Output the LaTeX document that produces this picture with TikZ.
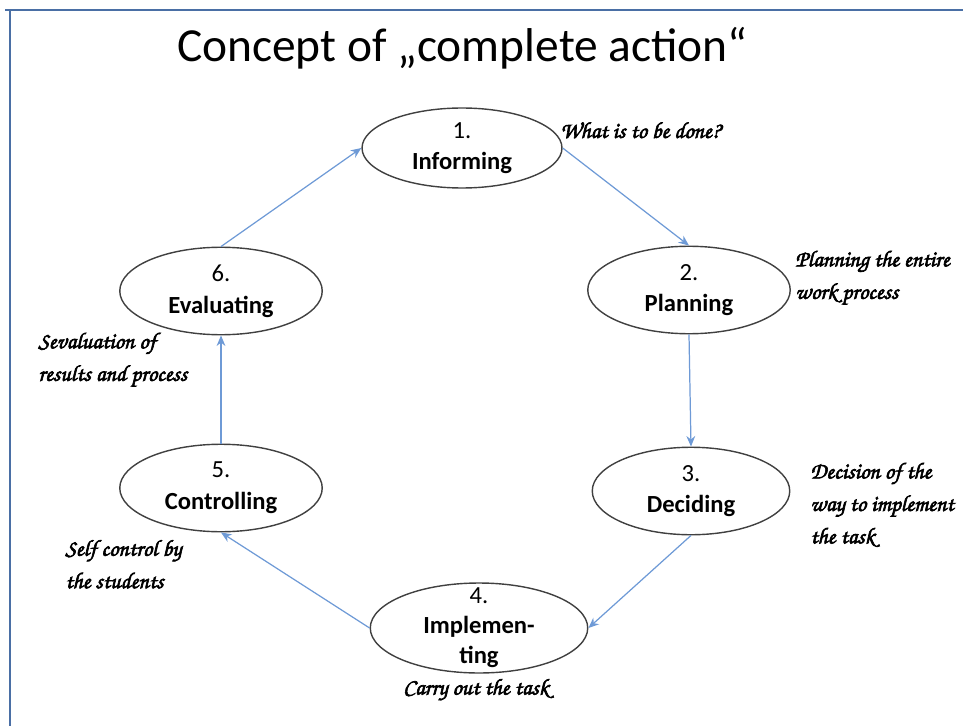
\documentclass[tikz,border=0pt]{standalone}
\usepackage{fontspec}
\setmainfont{Carlito}
\usetikzlibrary{shapes.geometric,arrows.meta}
\definecolor{framecol}{HTML}{4A6FA5}
\definecolor{arrcol}{HTML}{6E9AD6}
\newcommand{\notefont}{\fontencoding{OT1}\fontfamily{pzc}\fontseries{mb}\fontshape{it}\selectfont\special{pdf:literal direct 2 Tr 0.35 w}}
\tikzset{
  stage/.style={ellipse,draw=black!75,line width=0.8pt,minimum width=4.05cm,minimum height=1.75cm,inner sep=0pt,align=center,font=\fontsize{14}{18}\selectfont},
  note/.style={anchor=west,align=left,inner sep=0pt,font=\notefont\fontsize{13}{18.5}\selectfont},
  flow/.style={arrcol,line width=0.7pt,-{Stealth[length=6pt,width=5pt]}}
}
\begin{document}
\begin{tikzpicture}[x=0.02cm,y=-0.02cm]

\useasboundingbox (0,0) rectangle (963,726) ;

%frame
\draw [framecol,line width=1.2pt] (5,10) -- (963,10) ;
\draw [framecol,line width=1.2pt] (10,10) -- (10,726) ;

\node (title) at (462,48) {\fontsize{27}{30}\selectfont Concept of „complete action“} ;

%the six steps
\node [stage,minimum width=4cm,minimum height=1.6cm] (inf) at (462,148) {1.\\\textbf{Informing}} ;
\node [stage] (pla) at (689,290) {2.\\\textbf{Planning}} ;
\node [stage,minimum width=3.95cm] (dec) at (691,491) {3.\\\textbf{Deciding}} ;
\node [stage,minimum width=4.35cm,minimum height=1.8cm,inner ysep=-8pt,font=\fontsize{14}{17}\selectfont] (imp) at (479,628) {4.\\\textbf{Implemen-}\\\textbf{ting}} ;
\node [stage] (con) at (221,488) {5.\\\textbf{Controlling}} ;
\node [stage] (eva) at (221,291) {6.\\\textbf{Evaluating}} ;

\draw [flow] (inf.east) -- (pla.north) ;
\draw [flow] (pla.south) -- (dec.north) ;
\draw [flow] (dec.south) -- (imp.east) ;
\draw [flow] (imp.west) -- (con.south) ;
\draw [flow] (con.north) -- (eva.south) ;
\draw [flow] (eva.north) -- (inf.west) ;

%notes
\node [note] (n1) at (560,130) {What is to be done?} ;
\node [note] (n2) at (795,278) {Planning the entire\\work process} ;
\node [note] (n3) at (810,505) {Decision of the\\way to implement\\the task} ;
\node [note,anchor=center] (n4) at (476,690) {Carry out the task} ;
\node [note] (n5) at (65,564) {Self control by\\the students} ;
\node [note] (n6) at (38,360) {Sevaluation of\\results and process} ;

\end{tikzpicture}
\end{document}
